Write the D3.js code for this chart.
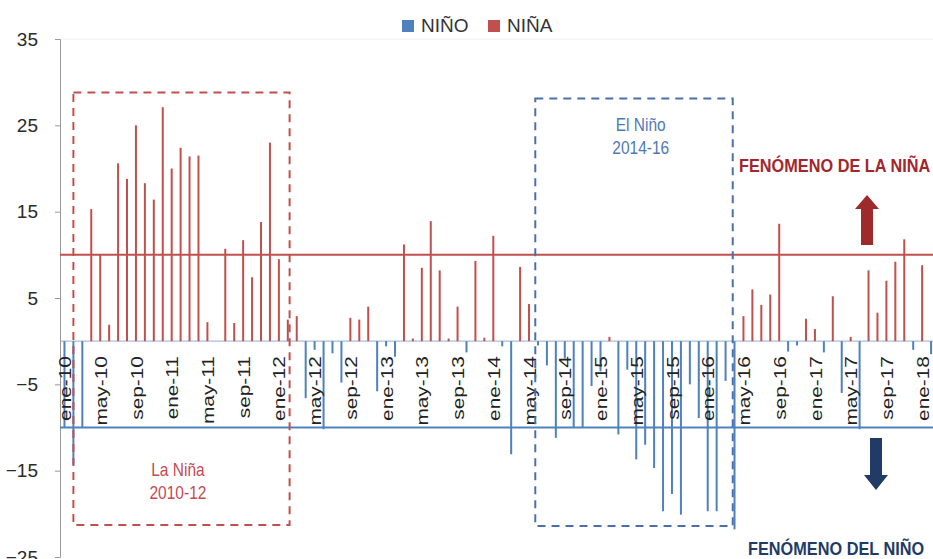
<!DOCTYPE html>
<html><head><meta charset="utf-8">
<script src="https://cdn.jsdelivr.net/npm/d3@7"></script>
<style>html,body{margin:0;padding:0;background:#fff;}svg{display:block;}</style>
</head><body>
<svg id="chart" width="933" height="559"></svg>
<script>
// ---- DATA ----
const monthNames = ["ene","feb","mar","abr","may","jun","jul","ago","sep","oct","nov","dic"];
const years = ["10","11","12","13","14","15","16","17","18"];
const categories = [];
years.forEach(y => monthNames.forEach(m => categories.push(m + "-" + y)));
categories.length = 98; // ene-10 .. feb-18

const xTickLabels = ["ene-10","may-10","sep-10","ene-11","may-11","sep-11","ene-12","may-12","sep-12",
  "ene-13","may-13","sep-13","ene-14","may-14","sep-14","ene-15","may-15","sep-15","ene-16","may-16",
  "sep-16","ene-17","may-17","sep-17","ene-18"];
const yTickValues = [35, 25, 15, 5, -5, -15, -25];

// NIÑA (positive) values
const nina = [
  0,0,0,15.3,10.0,1.9,20.6,18.8,25.0,18.3,16.4,27.1,
  20.0,22.4,21.4,21.5,2.2,0,10.7,2.1,11.7,7.4,13.8,23.0,
  9.5,2.5,2.9,0,0,0,0,0,2.7,2.5,4.0,0,
  0,0,11.2,0.3,8.5,13.9,8.2,0.3,4.0,0,9.3,0.4,
  12.2,0,0,8.6,4.3,0,0,0,0,0,0,0,
  0,0.5,0,0,0,0,0,0,0,0,0,0,
  0,0,0,0,2.9,6.0,4.2,5.4,13.6,0,0,2.6,
  1.4,0,5.2,0,0.5,0,8.2,3.3,7.0,9.2,11.8,0,
  8.8,0
];
// NIÑO (negative) values
const nino = [
  -10,-14.3,-10,0,0,0,0,0,0,0,0,0,
  0,0,0,0,0,0,0,0,0,0,0,0,
  0,0,0,-6.6,-1.0,-10.2,-1.4,-4.8,0,0,0,-5.8,
  -0.6,-1.8,0,0,0,0,0,0,0,-1.3,0,0,
  0,-0.6,-13.1,0,0,-0.5,-2.8,-11.2,-2.0,-10.0,-10.0,-5.2,
  -3.5,0,-10.8,-3.3,-13.7,-12.0,-14.7,-19.7,-17.7,-20.1,-5.0,-8.9,
  -19.7,-19.7,-4.6,-21.8,0,0,0,0,0,-1.2,-0.5,0,
  0,-1.3,0,-6.0,0,-10.2,0,0,0,0,0,-1.0,
  0,-1.5
];
const thresholdNina = 10;
const thresholdNino = -10;
const seriesNames = ["NIÑO", "NIÑA"];

// ---- STYLE ----
const RED = "#c0504d", BLUE = "#4f81bd";
const FONT = "Liberation Sans, Arial, sans-serif";
const svg = d3.select("#chart");
const margin = {left: 60, top: 39, bottom: 557};
const bandW = 8.934;

const x = d3.scaleBand().domain(categories).range([margin.left, margin.left + bandW * categories.length]).padding(0);
const y = d3.scaleLinear().domain([-25, 35]).range([margin.bottom, margin.top]);
const xc = c => x(c) + x.bandwidth() / 2;
const xi = i => margin.left + x.bandwidth() * (i + 0.5);

// faint top line
svg.append("line").attr("x1", margin.left).attr("x2", 933).attr("y1", y(35)).attr("y2", y(35))
  .attr("stroke", "#f0f0f0").attr("stroke-width", 1);

// zero line
svg.append("line").attr("x1", margin.left).attr("x2", 933).attr("y1", y(0)).attr("y2", y(0))
  .attr("stroke", "#a9bcd6").attr("stroke-width", 1.2);

// y axis
const yAxis = d3.axisLeft(y).tickValues(yTickValues).tickSize(5).tickFormat(d3.format("d"));
const ya = svg.append("g").attr("transform", `translate(${margin.left},0)`).call(yAxis);
ya.select(".domain").attr("stroke", "#999");
ya.selectAll(".tick line").attr("stroke", "#999");
ya.selectAll(".tick text").attr("font-family", FONT)
  .attr("font-size", 19).attr("fill", "#2a2a2a").attr("x", -22);

// bars
const barW = 2;
svg.append("g").selectAll("rect.nina").data(categories.map((c, i) => ({c, v: nina[i]})).filter(d => d.v > 0))
  .join("rect").attr("x", d => xc(d.c) - barW / 2).attr("width", barW)
  .attr("y", d => y(d.v)).attr("height", d => y(0) - y(d.v)).attr("fill", RED);
svg.append("g").selectAll("rect.nino").data(categories.map((c, i) => ({c, v: nino[i]})).filter(d => d.v < 0))
  .join("rect").attr("x", d => xc(d.c) - barW / 2).attr("width", barW)
  .attr("y", y(0)).attr("height", d => y(d.v) - y(0)).attr("fill", BLUE);

// x labels
const xl = svg.append("g");
xTickLabels.forEach(lbl => {
  xl.append("text").attr("transform", `translate(${xc(lbl) + 1},${y(0) + 15}) rotate(-90) scale(1.3,1)`)
    .attr("text-anchor", "end").attr("dy", "0.35em")
    .attr("font-family", FONT).attr("font-size", 16).attr("fill", "#222")
    .text(lbl);
});

// threshold lines
svg.append("line").attr("x1", margin.left).attr("x2", 933).attr("y1", y(thresholdNina)).attr("y2", y(thresholdNina))
  .attr("stroke", RED).attr("stroke-width", 2);
svg.append("line").attr("x1", margin.left).attr("x2", 933).attr("y1", y(thresholdNino)).attr("y2", y(thresholdNino))
  .attr("stroke", BLUE).attr("stroke-width", 2);

// annotation boxes
function box(i0, i1, v0, v1, color) {
  svg.append("rect").attr("x", xi(i0)).attr("y", y(v0)).attr("width", xi(i1) - xi(i0)).attr("height", y(v1) - y(v0))
    .attr("fill", "none").attr("stroke", color).attr("stroke-width", 2).attr("stroke-dasharray", "8,6");
}
box(1.0, 25.2, 28.8, -21.3, "#c0504d");
box(52.7, 74.8, 28.1, -21.4, "#4a70ac");

function label(lines, cx, y0, color) {
  lines.forEach((t, k) => {
    svg.append("text").attr("transform", `translate(${cx},${y0 + k * 23}) scale(1,1.2)`)
      .attr("text-anchor", "middle").attr("font-family", FONT)
      .attr("font-size", 15.5).attr("fill", color).text(t);
  });
}
label(["La Niña", "2010-12"], xi(12.7), 476, "#c44a55");
label(["El Niño", "2014-16"], xi(64.5), 131, "#4f78b8");

// phenomenon texts
svg.append("text").attr("font-family", FONT)
  .attr("font-weight", "bold").attr("font-size", 16.3).attr("fill", "#a3262c")
  .attr("transform", "translate(739,172) scale(1,1.12)")
  .text("FENÓMENO DE LA NIÑA");
svg.append("text").attr("font-family", FONT)
  .attr("font-weight", "bold").attr("font-size", 16.3).attr("fill", "#1f3b66")
  .attr("transform", "translate(748,555) scale(1,1.12)")
  .text("FENÓMENO DEL NIÑO");

// arrows
function arrow(cx, tipY, baseY, headLen, color) {
  const dir = Math.sign(baseY - tipY);
  const hb = tipY + dir * headLen;
  const p = d3.path();
  p.moveTo(cx, tipY); p.lineTo(cx + 12, hb); p.lineTo(cx + 6, hb); p.lineTo(cx + 6, baseY);
  p.lineTo(cx - 6, baseY); p.lineTo(cx - 6, hb); p.lineTo(cx - 12, hb); p.closePath();
  svg.append("path").attr("d", p.toString()).attr("fill", color);
}
arrow(867, 195, 245, 14, "#9e2a2b");
arrow(876, 490, 438, 15, "#1f3b66");

// legend
const leg = svg.append("g");
[[BLUE, seriesNames[0], 402], [RED, seriesNames[1], 488]].forEach(([c, t, lx]) => {
  leg.append("rect").attr("x", lx).attr("y", 20).attr("width", 12).attr("height", 12).attr("fill", c);
  leg.append("text").attr("x", lx + 19).attr("y", 32).attr("font-family", FONT)
    .attr("font-size", 19).attr("fill", "#333").text(t);
});
</script>
</body></html>
